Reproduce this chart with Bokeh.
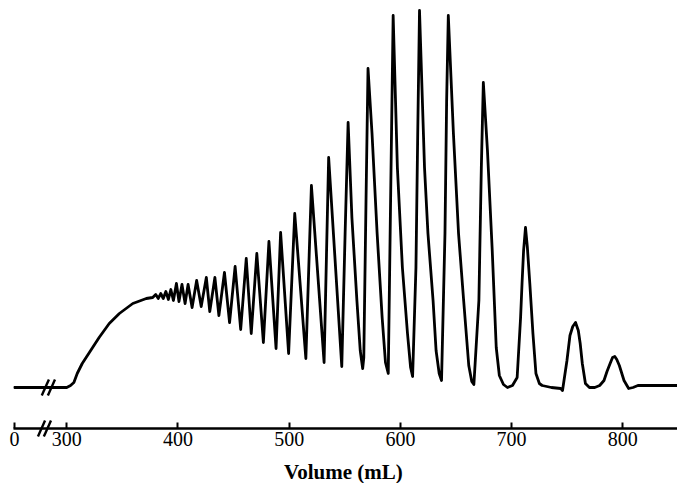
from bokeh.plotting import figure
from bokeh.models import Range1d, FixedTicker
from bokeh.core.properties import value
from bokeh.embed import file_html
from bokeh.resources import INLINE

# ---- data (volume in mL, detector signal in arbitrary units) ----
volume_ml = [
    0, 300, 303.4, 306.4, 309.4, 313.9, 321.5, 329.1, 338.2, 347.3, 359.4, 371.5, 377.3,
    380.0, 382.3, 384.5, 386.8, 389.1, 391.4, 393.6, 395.9, 398.6, 400.9, 403.6, 406.4,
    409.1, 412.7, 416.8, 420.9, 425.5, 428.6, 433.2, 436.8, 441.8, 446.4, 451.4, 456.4,
    461.4, 465.9, 470.9, 476.8, 481.8, 488.2, 492.3, 499.5, 505.0, 515.0, 520.0, 531.4,
    535.5, 547.3, 550.3, 553.0, 556.4, 560.9, 563.9, 566.1, 567.1, 569.1, 570.9, 574.5,
    579.1, 583.6, 586.6, 589.1, 591.2, 593.5, 597.3, 601.8, 606.4, 609.2, 611.0, 614.0,
    615.6, 617.2, 621.7, 624.8, 629.4, 632.1, 634.9, 637.0, 640.1, 641.6, 643.1, 647.7,
    652.3, 656.9, 661.5, 664.2, 666.1, 670.6, 672.8, 674.6, 678.3, 682.6, 686.2, 689.0,
    692.7, 696.3, 700.8, 705.0, 708.1, 709.4, 710.8, 712.5, 714.2, 716.4, 719.2, 721.9,
    725.0, 727.5, 735.8, 744.2, 745.8, 749.8, 752.5, 755.0, 757.5, 760.0, 761.7, 763.6,
    766.4, 770.0, 774.8, 779.2, 783.1, 785.8, 788.6, 790.8, 792.8, 794.6, 796.9, 801.1,
    805.3, 809.2, 813.6, 823.3, 849.0,
]
signal = [
    0, 0, 2, 5, 14, 24, 37, 50, 64, 74, 84, 89, 90,
    93, 89, 94, 89, 96, 88, 98, 87, 104, 86, 103, 84,
    103, 80, 107, 81, 110, 76, 110, 72, 115, 65, 121, 58,
    129, 54, 134, 45, 146, 39, 155, 34, 174, 29, 202, 25,
    230, 21, 154, 265, 170, 87, 37, 19, 30, 187, 319, 254,
    154, 70, 25, 14, 187, 372, 220, 120, 54, 20, 11, 120,
    254, 377, 220, 154, 87, 37, 14, 7, 154, 287, 372, 254,
    154, 87, 22, 6, 3, 87, 220, 305, 237, 137, 40, 12,
    3, 0, 2, 10, 70, 104, 137, 160, 140, 104, 54, 14,
    4, 2, 0, -1, -3, 27, 52, 61, 65, 57, 44, 24,
    4, 0, 0, 2, 7, 16, 24, 30, 31, 28, 22, 7,
    -1, 0, 2, 2, 2,
]
tick_ml = [0, 300, 400, 500, 600, 700, 800]
tick_labels = ["0", "300", "400", "500", "600", "700", "800"]
trace_break_ml = [177, 212]    # the "//" break sign drawn across the trace
axis_break_ml = [155, 189]     # the "//" break sign drawn across the axis
x_label = "Volume (mL)"

ZERO_AT = 253.0                # where 0 mL sits on the broken axis


def xpos(v):
    return v if v >= 300 else ZERO_AT + v * (300 - ZERO_AT) / 300


p = figure(width=677, height=483, output_backend="svg", toolbar_location=None,
           x_range=Range1d(252.1, 849.2), y_range=Range1d(-41, 387),
           y_axis_location=None, min_border_left=13, min_border_right=0,
           min_border_top=0, min_border_bottom=55)
p.outline_line_color = None
p.grid.visible = False
p.background_fill_color = "white"
p.border_fill_color = "white"

p.line([xpos(v) for v in volume_ml], signal, line_color="black", line_width=2.8,
       line_join="round", line_cap="round")

# axis-break strokes on the trace and on the axis
tb = [xpos(v) for v in trace_break_ml]
ab = [xpos(v) for v in axis_break_ml]
p.segment(x0=[x - 3.2 for x in tb], y0=[-8] * 2, x1=[x + 3.2 for x in tb], y1=[8] * 2,
          line_color="black", line_width=2.4, level="overlay")
p.segment(x0=[x - 3.2 for x in ab], y0=[-49] * 2, x1=[x + 3.2 for x in ab], y1=[-33] * 2,
          line_color="black", line_width=2.4, level="overlay")

ax = p.xaxis[0]
ax.ticker = FixedTicker(ticks=[xpos(v) for v in tick_ml])
ax.major_label_overrides = {xpos(v): lab for v, lab in zip(tick_ml, tick_labels)}
ax.axis_line_width = 2.5
ax.axis_line_color = "black"
ax.major_tick_in = 6
ax.major_tick_out = 0
ax.minor_tick_in = 0
ax.minor_tick_out = 0
ax.major_tick_line_width = 2
ax.major_tick_line_color = "black"
ax.major_label_text_font = "Liberation Serif"
ax.major_label_text_font_size = "20px"
ax.major_label_text_color = "black"
ax.major_label_standoff = 3

# axis title, drawn below the axis (unclipped overlay level)
p.text(x=[548.8], y=[-84], text=[x_label], text_align="center",
       text_baseline="alphabetic", text_font=value("Liberation Serif"),
       text_font_size="21px", text_font_style="bold", text_color="black",
       level="overlay")

open("out.html", "w").write(file_html(p, INLINE))
